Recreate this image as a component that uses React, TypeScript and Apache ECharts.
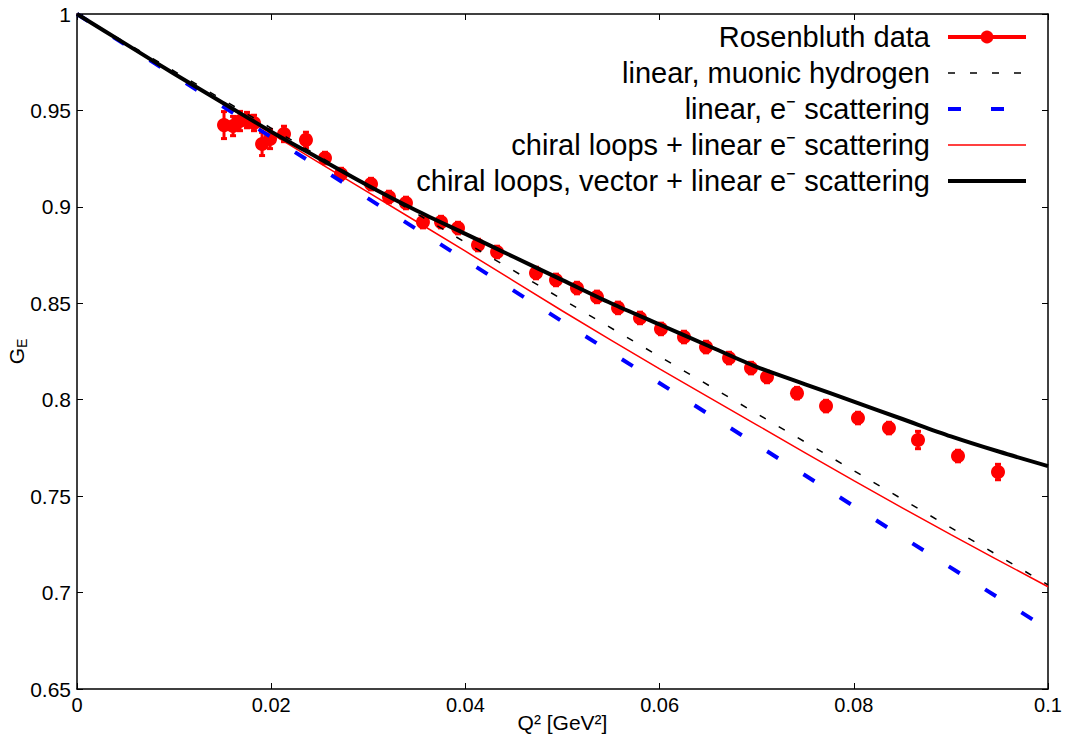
import React, { useEffect, useRef } from "react";
import * as echarts from "echarts";

// Rosenbluth data (Q^2 [GeV^2], G_E, error)
const dataQ2 = [
  0.01514, 0.01607, 0.01679, 0.01751, 0.01823, 0.01906, 0.01988, 0.02132, 0.02358,
  0.02554, 0.02719, 0.03028, 0.03213, 0.03388, 0.03563, 0.03749, 0.03924, 0.0413,
  0.04326, 0.04727, 0.04933, 0.05149, 0.05355, 0.05572, 0.05798, 0.06014, 0.06251,
  0.06478, 0.06715, 0.06941, 0.07106, 0.07415, 0.07714, 0.08043, 0.08362, 0.08661,
  0.09073, 0.09485,
];
const dataGE = [
  0.9424, 0.9419, 0.9445, 0.945, 0.9435, 0.9326, 0.9352, 0.9378, 0.9347,
  0.9253, 0.917, 0.9118, 0.9051, 0.902, 0.8921, 0.8921, 0.889, 0.8802,
  0.8766, 0.8657, 0.8621, 0.8579, 0.8533, 0.8476, 0.8424, 0.8367, 0.8325,
  0.8273, 0.8216, 0.8164, 0.8118, 0.8034, 0.7967, 0.7905, 0.7853, 0.7791,
  0.7708, 0.7625,
];
const dataErr = [
  0.007, 0.005, 0.005, 0.004, 0.004, 0.006, 0.005, 0.004, 0.004,
  0.003, 0.003, 0.003, 0.003, 0.003, 0.003, 0.003, 0.003, 0.003,
  0.003, 0.003, 0.003, 0.003, 0.003, 0.003, 0.003, 0.003, 0.003,
  0.003, 0.003, 0.003, 0.003, 0.003, 0.003, 0.003, 0.003, 0.0045,
  0.003, 0.004,
];

// linear fits
const linearQ = [0, 0.1];
const linearMuonic = [1, 0.704];
const linearEScatt = [1, 0.681];

// chiral loops + linear e- scattering
const chiralQ = [0, 0.01, 0.02, 0.03, 0.04, 0.05, 0.06, 0.07, 0.08, 0.09, 0.1];
const chiralGE = [1, 0.969, 0.938, 0.9075, 0.877, 0.846, 0.816, 0.787, 0.758, 0.73, 0.703];

// chiral loops, vector + linear e- scattering
const vectorQ = [
  0, 0.005, 0.01, 0.015, 0.02, 0.025, 0.03, 0.035, 0.04, 0.045, 0.05,
  0.055, 0.06, 0.065, 0.07, 0.075, 0.08, 0.085, 0.09, 0.095, 0.1,
];
const vectorGE = [
  1, 0.9845, 0.969, 0.954, 0.939, 0.925, 0.911, 0.898, 0.886, 0.874, 0.862,
  0.85, 0.839, 0.828, 0.817, 0.808, 0.799, 0.79, 0.781, 0.773, 0.7656,
];

const NAMES = [
  "Rosenbluth data",
  "linear, muonic hydrogen",
  "linear, e⁻ scattering",
  "chiral loops + linear e⁻ scattering",
  "chiral loops, vector + linear e⁻ scattering",
];

const FONT = "Liberation Sans";

export default function App() {
  const ref = useRef<HTMLDivElement>(null);
  useEffect(() => {
    if (!ref.current) return;
    const chart = echarts.init(ref.current, null, { renderer: "svg" });
    const zip = (xs: number[], ys: number[]) => xs.map((x, i) => [x, ys[i]]);
    const axisCommon = {
      type: "value",
      axisLine: { show: true, onZero: false, lineStyle: { color: "#000", width: 1.5 } },
      axisTick: { show: true, inside: true, length: 6, lineStyle: { color: "#000", width: 1 } },
      splitLine: { show: false },
    };
    const noSym = { opacity: 0 };
    chart.setOption({
      animation: false,
      backgroundColor: "#fff",
      textStyle: { fontFamily: FONT },
      grid: { left: 77, right: 22, top: 14, bottom: 56, containLabel: false, outerBoundsMode: "none" },
      xAxis: [
        {
          ...axisCommon,
          min: 0,
          max: 0.1,
          interval: 0.02,
          position: "bottom",
          axisLabel: { fontSize: 20, color: "#000", fontFamily: FONT, margin: 6, formatter: (v: number) => String(+v.toFixed(4)) },
          name: "Q² [GeV²]",
          nameLocation: "middle",
          nameGap: 23,
          nameMoveOverlap: false,
          nameTextStyle: { fontSize: 21, color: "#000", fontFamily: FONT, verticalAlign: "top" },
        },
        {
          ...axisCommon,
          min: 0,
          max: 0.1,
          interval: 0.02,
          position: "top",
          axisLabel: { show: false },
        },
      ],
      yAxis: [
        {
          ...axisCommon,
          min: 0.65,
          max: 1,
          interval: 0.05,
          position: "left",
          axisLabel: { fontSize: 21, color: "#000", fontFamily: FONT, margin: 6, formatter: (v: number) => String(+v.toFixed(4)) },
          name: "{g|G}{s|E}",
          nameLocation: "middle",
          nameRotate: 90,
          nameGap: 48,
          nameMoveOverlap: false,
          nameTextStyle: {
            color: "#000",
            fontFamily: FONT,
            rich: {
              g: { fontSize: 21, lineHeight: 26, fontFamily: FONT, color: "#000", verticalAlign: "middle" },
              s: { fontSize: 14, lineHeight: 26, fontFamily: FONT, color: "#000", verticalAlign: "bottom" },
            },
          },
        },
        {
          ...axisCommon,
          min: 0.65,
          max: 1,
          interval: 0.05,
          position: "right",
          axisLabel: { show: false },
        },
      ],
      legend: {
        orient: "vertical",
        right: 42,
        top: 22,
        padding: 0,
        align: "right",
        itemWidth: 78,
        itemHeight: 16,
        itemGap: 6,
        textStyle: { fontSize: 29, lineHeight: 30, color: "#000", fontFamily: FONT, padding: [0, 13, 0, 0] },
        data: [
          { name: NAMES[0], lineStyle: { opacity: 1, width: 4, color: "#ff0000" } },
          { name: NAMES[1], itemStyle: noSym, lineStyle: { width: 1.5, color: "#000", type: [7, 15] } },
          { name: NAMES[2], itemStyle: noSym, lineStyle: { width: 4, color: "#0000ff", type: [13, 30] } },
          { name: NAMES[3], itemStyle: noSym, lineStyle: { width: 1.5, color: "#ff0000" } },
          { name: NAMES[4], itemStyle: noSym, lineStyle: { width: 4, color: "#000" } },
        ],
      },
      series: [
        {
          name: NAMES[0],
          type: "line",
          data: zip(dataQ2, dataGE),
          symbol: "circle",
          symbolSize: 14,
          itemStyle: { color: "#ff0000" },
          lineStyle: { opacity: 0, width: 4, color: "#ff0000" },
          z: 2,
        },
        {
          name: NAMES[0] + " errors",
          type: "custom",
          data: dataQ2.map((x, i) => [x, dataGE[i] - dataErr[i], dataGE[i] + dataErr[i]]),
          renderItem: (params: any, api: any) => {
            const lo = api.coord([api.value(0), api.value(1)]);
            const hi = api.coord([api.value(0), api.value(2)]);
            const st = { stroke: "#ff0000", lineWidth: 3 };
            return {
              type: "group",
              children: [
                { type: "line", shape: { x1: lo[0], y1: lo[1], x2: hi[0], y2: hi[1] }, style: st },
                { type: "line", shape: { x1: lo[0] - 3, y1: lo[1], x2: lo[0] + 3, y2: lo[1] }, style: st },
                { type: "line", shape: { x1: hi[0] - 3, y1: hi[1], x2: hi[0] + 3, y2: hi[1] }, style: st },
              ],
            };
          },
          z: 2,
        },
        {
          name: NAMES[1],
          type: "line",
          data: zip(linearQ, linearMuonic),
          symbol: "none",
          itemStyle: { color: "#000" },
          lineStyle: { color: "#000", width: 1.5, type: [7, 15] },
          z: 3,
        },
        {
          name: NAMES[2],
          type: "line",
          data: zip(linearQ, linearEScatt),
          symbol: "none",
          itemStyle: { color: "#0000ff" },
          lineStyle: { color: "#0000ff", width: 4, type: [13, 30] },
          z: 3,
        },
        {
          name: NAMES[3],
          type: "line",
          data: zip(chiralQ, chiralGE),
          symbol: "none",
          smooth: 0.3,
          itemStyle: { color: "#ff0000" },
          lineStyle: { color: "#ff0000", width: 1.5 },
          z: 3,
        },
        {
          name: NAMES[4],
          type: "line",
          data: zip(vectorQ, vectorGE),
          symbol: "none",
          smooth: 0.3,
          itemStyle: { color: "#000" },
          lineStyle: { color: "#000", width: 4 },
          z: 4,
        },
      ],
    });
    return () => chart.dispose();
  }, []);
  return (
    <div
      ref={ref}
      style={{ position: "fixed", left: 0, top: 0, width: 1070, height: 745, background: "#fff" }}
    />
  );
}
